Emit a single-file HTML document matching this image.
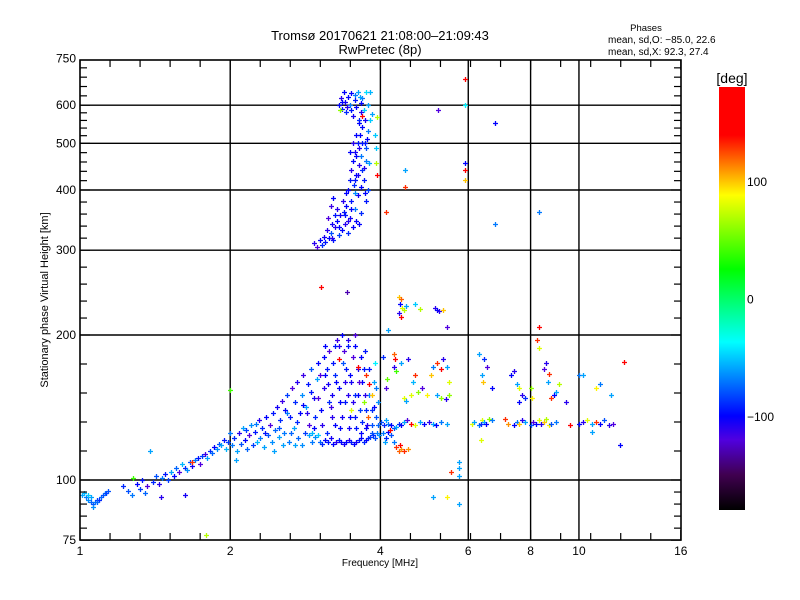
<!DOCTYPE html>
<html><head><meta charset="utf-8"><style>
body{margin:0;background:#fff;}
svg{display:block;font-family:"Liberation Sans",sans-serif;}
</style></head><body>
<svg id="chart" width="800" height="600" viewBox="0 0 800 600" xmlns="http://www.w3.org/2000/svg">
<rect width="800" height="600" fill="#fff"/>
<text x="380" y="40" font-size="13" text-anchor="middle">Tromsø 20170621 21:08:00–21:09:43</text>
<text x="380" y="54" font-size="13" text-anchor="middle">RwPretec (8p)</text>
<text x="646" y="31" font-size="9.5" text-anchor="middle">Phases</text>
<text x="608" y="43" font-size="10">mean, sd,O: −85.0, 22.6</text>
<text x="608" y="55" font-size="10">mean, sd,X:  92.3, 27.4</text>
<text transform="translate(48,300) rotate(-90)" font-size="11" text-anchor="middle">Stationary phase Virtual Height [km]</text>
<text x="380" y="566" font-size="10" text-anchor="middle">Frequency [MHz]</text>
<g id="grid"></g><g id="marks"></g><g id="axes"></g><g id="cbar"></g>
</svg>
<script>
const xTicks=[1,2,4,6,8,10,16];
const yTicks=[75,100,200,300,400,500,600,750];
const yGrid=[100,200,300,400,500,600];
const xGrid=[2,4,6,8,10];
const cbTicks=[100,0,-100];
const freq=[1.01,1.02,1.03,1.04,1.05,1.05,1.06,1.07,1.08,1.09,1.10,1.11,1.12,1.13,1.14,1.04,1.06,1.08,
1.22,1.25,1.27,1.30,1.32,1.33,1.35,1.36,1.28,1.40,1.42,1.44,1.46,1.48,1.50,1.52,1.54,1.56,1.58,1.60,1.62,1.64,1.66,1.68,1.70,1.72,1.74,1.76,1.78,1.80,1.82,1.84,1.86,1.88,1.90,1.92,1.94,1.96,1.98,1.45,1.62,1.68,1.38,1.79,
2.02,2.04,2.06,2.08,2.10,2.12,2.14,2.16,2.18,2.20,2.22,2.24,2.26,2.28,2.30,2.32,2.34,2.36,2.38,2.40,2.42,2.44,2.46,2.48,2.50,2.52,2.54,2.56,2.58,2.60,
2.62,2.64,2.66,2.68,2.70,2.72,2.74,2.76,2.78,2.80,2.82,2.84,2.86,2.88,2.90,2.92,2.94,2.96,2.98,3.00,
3.02,3.06,3.10,3.14,3.18,3.22,3.26,3.30,3.34,3.38,3.42,3.46,3.50,3.54,3.58,3.62,3.66,3.70,3.74,3.78,3.82,3.86,3.90,3.94,3.98,2.88,2.92,2.96,3.00,
3.04,3.08,3.12,3.16,3.20,3.24,3.28,3.32,3.36,3.40,3.44,3.48,3.52,3.56,3.60,3.64,3.68,3.72,3.76,3.80,3.84,3.88,3.92,3.96,
3.75,3.80,3.84,3.60,3.70,3.78,3.50,3.90,3.30,
3.10,3.20,3.30,3.40,3.50,3.60,3.70,3.15,3.25,3.35,3.45,3.55,3.65,3.75,3.85,
2.0,3.04,3.43,
2.95,2.98,3.02,3.05,3.08,3.10,3.12,3.15,3.18,3.20,3.22,3.25,3.28,3.30,3.32,3.35,3.38,3.40,3.42,3.45,3.48,3.50,3.52,3.55,3.58,3.60,3.62,3.65,3.14,3.18,3.22,3.28,
3.45,3.48,3.50,3.52,3.54,3.56,3.58,3.60,3.62,3.64,3.66,3.68,3.70,3.72,3.74,3.76,3.78,3.80,3.55,3.65,3.70,3.75,3.78,3.82,3.85,3.58,3.62,3.68,
3.30,3.33,3.35,3.38,3.40,3.42,3.45,3.48,3.50,3.52,3.55,3.58,3.60,3.62,3.65,3.68,3.70,3.74,3.78,3.82,3.32,3.68,
3.94,3.92,3.94,3.90,3.92,
4.35,4.40,4.38,4.42,4.36,4.45,4.40,4.50,4.70,4.80,5.15,5.20,5.25,5.35,5.45,4.15,
4.05,4.25,4.28,4.25,4.30,4.40,4.55,4.65,4.70,4.45,4.50,4.60,4.75,4.85,4.95,5.05,5.10,5.20,5.30,5.35,5.45,5.50,5.42,5.48,5.20,5.30,4.12,4.10,
4.02,4.06,4.10,4.15,4.20,4.25,4.30,4.35,4.40,4.45,4.52,4.60,4.70,4.80,4.90,5.00,5.10,5.18,5.30,5.45,4.05,4.10,4.15,4.20,4.08,4.18,4.25,
4.30,4.35,4.40,4.45,4.55,4.38,
5.76,5.76,5.76,5.55,5.10,5.45,5.76,
4.48,4.48,5.23,5.9,5.9,5.9,5.9,5.9,6.8,6.8,8.3,4.1,
6.10,6.15,6.30,6.35,6.40,6.45,6.50,6.60,6.70,7.10,7.20,7.40,7.50,7.60,7.70,7.80,8.0,8.10,8.20,8.30,8.40,8.50,8.60,8.70,8.80,9.0,9.6,10.0,10.2,10.4,10.6,10.8,11.0,11.2,11.5,11.7,
6.35,6.3,6.45,6.55,6.40,6.42,6.70,7.30,7.40,7.50,7.70,7.80,7.60,7.60,8.0,8.05,8.25,8.30,8.3,8.5,8.6,8.7,8.65,8.9,8.8,9.0,9.1,9.4,10.0,10.2,10.8,11.0,11.6,12.3,12.1,10.6,
2.55,2.65,2.72,2.78,2.85,2.9,2.95,3.02,3.05,3.08,3.12,3.14,3.18,3.22,3.26,3.3,3.32,3.38,3.42,3.46,3.48,3.52,3.56,3.58,3.62,3.66,3.68,3.72,3.74,3.8,3.84,3.88,3.92,3.96,3.35,3.45,3.55,3.25,2.8,2.7,3.0,3.1,2.6,2.5,2.45,2.35,2.25,2.15,2.05,2.0,
3.2,3.3,3.4,3.45,3.5,3.55,3.6,3.63,3.66,3.72,3.75,3.58,3.52,3.48,3.68,3.72,3.36,3.42,3.25,3.35,3.43,3.5,3.56,3.64];
const height=[93,94,92,91,90,92,89,90,91,91,92,93,94,94,95,93,88,90,
97,95,93,98,96,100,94,97,101,99,102,98,101,103,100,104,102,106,104,108,106,105,109,107,110,111,108,112,113,111,115,114,117,116,119,118,121,116,120,92,93,109,115,77,
118,122,115,125,119,128,121,116,124,130,118,126,120,133,122,128,117,135,124,130,120,138,127,142,123,133,146,125,140,150,
120,135,155,128,145,160,122,138,150,165,125,142,158,130,170,120,148,135,162,175,
120,119,121,120,122,119,120,121,120,119,120,121,120,119,120,121,122,120,121,122,123,124,122,125,124,124,125,123,124,
140,155,170,185,150,165,195,145,175,160,190,135,180,150,170,140,160,185,130,150,140,160,135,145,
165,158,150,172,145,135,140,175,178,
165,135,155,145,160,150,170,145,130,135,150,135,125,140,130,
154,252,246,
310,305,315,308,320,312,330,318,325,340,315,335,345,322,355,330,360,340,370,325,350,380,335,365,345,390,340,358,350,370,385,365,
400,420,440,460,410,480,430,500,450,520,470,540,420,560,490,510,400,455,395,405,445,380,530,560,575,470,490,500,
600,620,590,640,610,580,625,600,635,570,615,595,640,560,605,620,585,640,600,640,585,570,
568,455,430,520,490,
240,238,232,228,222,225,218,230,232,226,228,225,224,225,208,205,
180,183,178,172,168,175,178,160,165,148,146,150,152,155,150,165,172,175,170,178,172,150,147,160,150,148,162,155,
132,130,133,131,130,128,129,131,130,132,133,131,130,132,131,132,131,130,132,131,125,122,126,124,120,127,120,
117,115,116,115,116,118,
109,106,102,104,92,92,89,
440,405,586,680,600,455,440,420,550,340,360,360,
131,132,130,131,133,132,131,134,133,134,131,130,132,131,133,132,130,132,131,133,131,132,134,130,131,132,130,131,132,133,131,132,131,133,130,131,
121,183,178,172,165,160,155,165,168,158,150,148,145,155,155,148,195,188,208,170,175,166,160,150,148,152,158,145,165,165,155,158,150,176,118,126,
118,125,132,118,138,152,128,165,130,180,125,158,142,175,160,190,128,185,170,128,165,145,190,128,160,180,132,150,128,170,125,142,155,130,200,195,200,190,143,118,148,190,138,128,115,125,131,127,110,125,
318,335,355,345,365,420,430,550,580,500,460,520,500,480,440,395,380,395,355,610,595,585,630,625];
const phase=[-60,-55,-70,-65,-75,-60,-80,-70,-85,-90,-75,-80,-70,-85,-80,-50,-65,-75,
-90,-80,-70,-100,-85,-95,-75,-120,40,-90,-80,-110,-70,-95,-85,-60,-100,-75,-120,-55,-90,-65,-80,-105,-70,-95,-120,-85,-115,-60,-90,-75,-100,-65,-80,-60,-95,-55,-85,-110,-105,130,-60,70,
-70,-90,-60,-110,-80,-60,-100,-75,-120,-65,-85,-95,-55,-110,-70,-90,-60,-100,-80,-120,-65,-95,-75,-105,-60,-90,-115,-70,-100,-85,
-70,-95,-120,-60,-90,-110,-75,-100,-65,-115,-85,-60,-95,-120,-80,-70,-105,-90,-60,-100,
-75,-90,-100,-95,-105,-100,-110,-95,-100,-105,-100,-110,-95,-100,-105,-95,-100,-90,-100,-95,-85,-90,-80,-70,-65,-60,-55,-65,-50,
-100,-110,-95,-120,-105,-90,-115,-100,-80,-110,-95,-100,-120,-90,-105,-85,-100,-95,-110,-70,-90,-60,-80,-65,
130,160,100,150,60,120,80,-40,140,
-100,-110,-100,-95,-105,-100,-95,-90,-100,-105,-110,-95,-100,-90,-80,
40,140,-130,
-110,-120,-100,-90,-105,-95,-110,-100,-80,-105,-95,-110,-100,-85,-105,-100,-95,-110,-100,-90,-105,-95,-100,-70,-100,-105,-100,-90,-120,-115,-100,-110,
-100,-95,-110,-100,-90,-105,-100,-95,-110,-100,-70,-100,-95,-105,-80,-100,-85,-60,-65,-100,-110,-95,-70,-50,-60,-100,-110,-95,
-100,-110,-95,-100,-105,-90,-100,-70,-100,-105,-95,-100,-60,-90,-100,-70,-50,-45,-60,-55,60,150,
70,70,150,-50,-50,
100,120,-100,80,-110,70,140,-60,-50,70,-110,-100,-110,100,-120,-60,
-90,120,150,-110,40,-60,-110,-55,130,80,-60,80,60,-120,90,100,-70,130,150,-110,-60,60,-110,80,-60,60,50,-120,
-80,-90,-60,-70,-100,-80,-60,-90,-100,-60,-120,140,80,-60,-100,-110,-60,-100,-70,-60,-70,-90,-100,-80,-60,140,-70,
130,120,110,130,110,140,
-60,-60,-60,130,-60,90,-60,
-60,130,-120,150,-40,-100,150,100,-100,-70,-70,130,
80,-60,-70,-90,80,-60,-100,60,-70,130,110,-100,-70,100,-110,-60,-80,-120,-100,80,-110,100,70,90,-80,-70,150,-100,-110,80,-60,130,-100,-80,-110,-120,
80,-60,-90,-120,-60,100,-100,-100,-110,-60,-110,-90,-100,80,60,90,130,80,160,-120,-110,130,-60,-100,130,-60,70,-110,-70,-60,90,-70,-60,150,-100,-60,
-60,-75,-90,-65,-110,-95,-100,-120,-110,-100,-90,-105,-115,-95,-100,-110,-100,-120,-95,-105,-100,-110,-100,-95,-120,-100,-90,-110,-100,-95,-80,-100,-70,-75,-100,-110,-120,-95,-100,-60,-120,-100,-70,-80,-60,-95,-70,-85,-60,-70,
-110,-100,-95,-110,-100,-95,-105,-100,-110,-95,-70,-100,-110,-100,-90,-100,-110,-100,-95,-100,-110,-95,-70,-60];

const NS='http://www.w3.org/2000/svg';
const X0=80,X1=681,Y0=60,Y1=540,PX_OCT=150.2,PY_OCT=145;
function xs(f){return X0+PX_OCT*Math.log2(f);}
function ys(h){return 480-PY_OCT*Math.log2(h/100);}
const CB_TOP=87,CB_BOT=510;
function cbY(d){return CB_BOT-(d+180)/360*(CB_BOT-CB_TOP);}
const stops=[[-180,[0,0,0]],[-150,[64,0,80]],[-120,[80,0,224]],[-100,[0,0,255]],[-37,[0,255,255]],[25,[0,255,0]],[88,[255,255,0]],[139,[255,0,0]],[180,[255,0,0]]];
function col(d){
  d=Math.max(-180,Math.min(180,d));
  for(let i=0;i<stops.length-1;i++){const a=stops[i],b=stops[i+1];
    if(d<=b[0]){const t=(d-a[0])/(b[0]-a[0]);const c=a[1].map((v,k)=>Math.round(v+(b[1][k]-v)*t));return 'rgb('+c.join(',')+')';}}
  return 'red';
}
function el(tag,attrs,parent){const e=document.createElementNS(NS,tag);for(const k in attrs)e.setAttribute(k,attrs[k]);parent.appendChild(e);return e;}
const grid=document.getElementById('grid'),marks=document.getElementById('marks'),axes=document.getElementById('axes'),cbar=document.getElementById('cbar');

xGrid.forEach(v=>{const x=xs(v);const l=el('line',{x1:x,x2:x,y1:Y0,y2:Y1,stroke:'#000','stroke-width':1.4},grid);

});
yGrid.forEach(v=>{const y=ys(v);const l=el('line',{x1:X0,x2:X1,y1:y,y2:y,stroke:'#000','stroke-width':1.4},grid);

});

for(let i=0;i<freq.length;i++){
  const x=Math.round(xs(freq[i]))+0.5,y=Math.round(ys(height[i]))+0.5;
  const p=el('path',{d:'M'+(x-2.5)+' '+y+'h5M'+x+' '+(y-2.5)+'v5',stroke:col(phase[i]),'stroke-width':1.3,fill:'none'},marks);
  
  
}

const fr=el('rect',{x:X0,y:Y0,width:X1-X0,height:Y1-Y0,fill:'none',stroke:'#000','stroke-width':1.6},axes);


for(let k=0;k<=20;k++){const x=X0+k*30.04;const len=(k%5==0)?10:7;
  el('line',{x1:x,x2:x,y1:Y1,y2:Y1-len,stroke:'#000','stroke-width':1.2},axes);
  el('line',{x1:x,x2:x,y1:Y0,y2:Y0+len,stroke:'#000','stroke-width':1.2},axes);}
for(let i=0;i<yTicks.length-1;i++){const ya=ys(yTicks[i]),yb=ys(yTicks[i+1]);
  for(let k=0;k<5;k++){const y=ya+(yb-ya)*k/5;const len=k==0?10:7;
    el('line',{x1:X0,x2:X0+len,y1:y,y2:y,stroke:'#000','stroke-width':1.2},axes);
    el('line',{x1:X1,x2:X1-len,y1:y,y2:y,stroke:'#000','stroke-width':1.2},axes);}}
xTicks.forEach(v=>{const t=el('text',{x:xs(v),y:555,'font-size':12,'text-anchor':'middle'},axes);t.textContent=v;

});
yTicks.forEach(v=>{const t=el('text',{x:76,y:ys(v)+4,'font-size':12,'text-anchor':'end'},axes);t.textContent=v;

});

const defs=el('defs',{},cbar);const g=el('linearGradient',{id:'cbg',x1:0,y1:1,x2:0,y2:0},defs);
stops.forEach(s=>el('stop',{offset:(s[0]+180)/360,'stop-color':col(s[0])},g));
const cr=el('rect',{x:719,y:CB_TOP,width:26,height:CB_BOT-CB_TOP,fill:'url(#cbg)'},cbar);


const ct=el('text',{x:732,y:83,'font-size':14,'text-anchor':'middle'},cbar);ct.textContent='[deg]';


cbTicks.forEach(v=>{const t=el('text',{x:747,y:cbY(v)+5,'font-size':12},cbar);t.textContent=v<0?'−'+(-v):String(v);

});
</script>
</body></html>
